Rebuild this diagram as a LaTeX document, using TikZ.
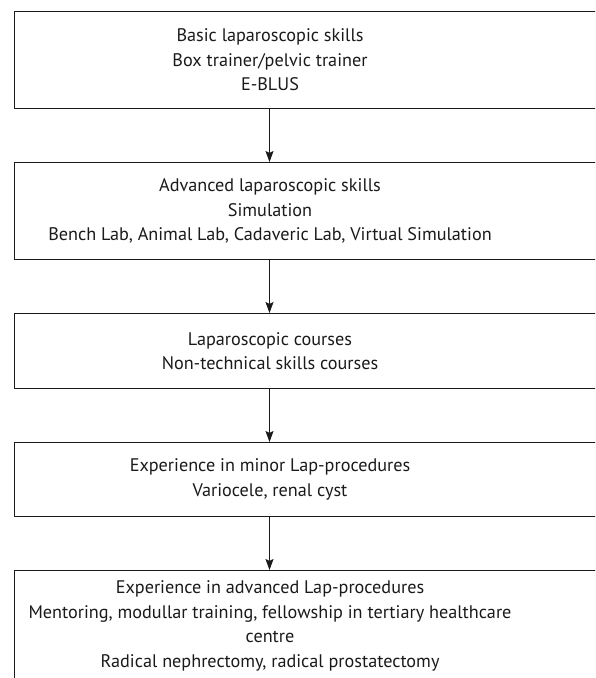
\documentclass[tikz,border=0pt]{standalone}
\usepackage{fontspec}
\setmainfont{PT Sans}
\usetikzlibrary{arrows.meta}
\definecolor{ink}{HTML}{1A1A1A}
\newcommand{\boxtext}[1]{\makebox[700pt][l]{\parbox{511pt}{\centering\fontsize{18.2pt}{24.5pt}\selectfont #1}}}
\begin{document}
\begin{tikzpicture}[x=1pt,y=1pt,
  stepbox/.style={draw=ink, line width=1pt, anchor=north west, inner xsep=0pt, inner ysep=0pt,
    minimum width=700pt, align=left, text=ink},
  flow/.style={draw=ink, line width=1pt, -{Stealth[length=11pt,width=8pt,inset=2pt]}}]
\useasboundingbox (0,0) rectangle (595,-678);
\clip (0,0) rectangle (595,-678);
\node[stepbox, minimum height=97pt] (b1) at (14,-11) {\boxtext{Basic laparoscopic skills\\Box trainer/pelvic trainer\\E-BLUS}};
\node[stepbox, minimum height=97pt] (b2) at (14,-162) {\boxtext{Advanced laparoscopic skills\\Simulation\\Bench Lab, Animal Lab, Cadaveric Lab, Virtual Simulation}};
\node[stepbox, minimum height=75pt] (b3) at (14,-313) {\boxtext{Laparoscopic courses\\Non-technical skills courses}};
\node[stepbox, minimum height=74pt] (b4) at (14,-442) {\boxtext{Experience in minor Lap-procedures\\Variocele, renal cyst}};
\node[stepbox, inner ysep=10.5pt] (b5) at (14,-570) {\boxtext{Experience in advanced Lap-procedures\\Mentoring, modullar training, fellowship in tertiary healthcare centre\\Radical nephrectomy, radical prostatectomy}};
\coordinate (mid) at (269.5,0);
\draw[flow] (mid |- b1.south) -- (mid |- b2.north);
\draw[flow] (mid |- b2.south) -- (mid |- b3.north);
\draw[flow] (mid |- b3.south) -- (mid |- b4.north);
\draw[flow] (mid |- b4.south) -- (mid |- b5.north);
\end{tikzpicture}
\end{document}
